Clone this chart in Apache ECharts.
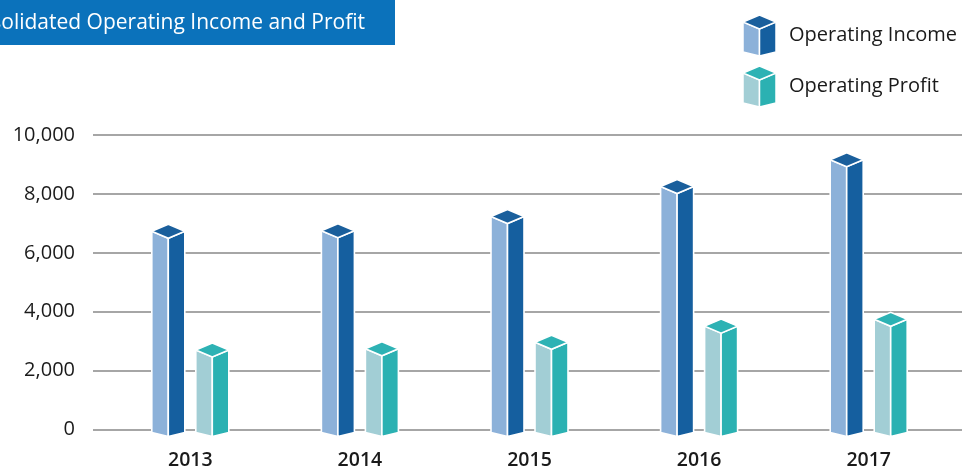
<!DOCTYPE html>
<html>
<head>
<meta charset="utf-8">
<title>Consolidated Operating Income and Profit</title>
<script src="https://cdn.jsdelivr.net/npm/echarts@6/dist/echarts.min.js"></script>
<style>
  html, body { margin: 0; padding: 0; background: #fff; }
  #main { width: 962px; height: 472px; }
</style>
</head>
<body>
<div id="main"></div>
<script>
  // 数据
  const years = ['2013', '2014', '2015', '2016', '2017']
  const incomeValues = [6730, 6750, 7230, 8250, 9160]
  const profitValues = [2700, 2740, 2960, 3510, 3740]
  const yTicks = [0, 2000, 4000, 6000, 8000, 10000]

  const incomeColors = { top: '#1a5f9c', left: '#8cb1d9', right: '#155f9f' }
  const profitColors = { top: '#2db2b4', left: '#a2ced5', right: '#2bb1b2' }

  const chartDom = document.getElementById('main')
  const chartInstance = echarts.init(chartDom, null, { renderer: 'canvas' })

  // 图例用的小立方体图标
  function cubeIcon(c) {
    const svg = '<svg xmlns="http://www.w3.org/2000/svg" width="33" height="42" viewBox="0 0 33 42">' +
      '<polygon points="0,8 16.5,15 16.5,42 0,38" fill="' + c.left + '" stroke="#fff" stroke-width="1.5"/>' +
      '<polygon points="33,8 16.5,15 16.5,42 33,38" fill="' + c.right + '" stroke="#fff" stroke-width="1.5"/>' +
      '<polygon points="0,8 16.5,1 33,8 16.5,15" fill="' + c.top + '" stroke="#fff" stroke-width="1.5"/>' +
      '</svg>'
    return 'image://data:image/svg+xml;charset=utf-8,' + encodeURIComponent(svg)
  }

  // 画一个立方体柱子
  function makeCube(offset, colors) {
    return function (params, api) {
      const idx = api.value(0)
      const topPt = api.coord([idx, api.value(1)])
      const basePt = api.coord([idx, 0])
      const cx = topPt[0] + offset
      const t = topPt[1]
      const b = basePt[1]
      const hw = 16.5
      const d = 7
      const style = { stroke: '#fff', lineWidth: 1.6 }
      return {
        type: 'group',
        children: [
          {
            type: 'polygon',
            shape: { points: [[cx - hw, t], [cx, t + d], [cx, b + 7], [cx - hw, b + 3]] },
            style: Object.assign({ fill: colors.left }, style)
          },
          {
            type: 'polygon',
            shape: { points: [[cx + hw, t], [cx, t + d], [cx, b + 7], [cx + hw, b + 3]] },
            style: Object.assign({ fill: colors.right }, style)
          },
          {
            type: 'polygon',
            shape: { points: [[cx - hw, t], [cx, t - d], [cx + hw, t], [cx, t + d]] },
            style: Object.assign({ fill: colors.top }, style)
          }
        ]
      }
    }
  }

  const fontFamily = '"Open Sans", "Noto Sans", sans-serif'

  const option = {
    animation: false,
    textStyle: { fontFamily: fontFamily },
    graphic: [
      {
        type: 'rect',
        left: 0,
        top: 0,
        shape: { width: 395, height: 45 },
        style: { fill: '#0b72bb' },
        z: 10
      },
      {
        type: 'text',
        x: 365,
        y: 23,
        style: {
          text: 'Consolidated Operating Income and Profit',
          fill: '#fff',
          font: '21px ' + fontFamily,
          textAlign: 'right',
          textVerticalAlign: 'middle'
        },
        z: 11
      }
    ],
    legend: {
      orient: 'vertical',
      left: 743,
      top: 14,
      padding: 0,
      itemWidth: 33,
      itemHeight: 42,
      itemGap: 9,
      selectedMode: false,
      textStyle: { fontSize: 20, color: '#1a1a1a', padding: [6, 0, 0, 8] },
      data: [
        { name: 'Operating Income', icon: cubeIcon(incomeColors) },
        { name: 'Operating Profit', icon: cubeIcon(profitColors) }
      ]
    },
    grid: [
      { left: 93, right: 0, top: 135, bottom: 42.5 },
      { left: 105.5, right: 8.5, top: 135, bottom: 42.5 }
    ],
    xAxis: [
      {
        gridIndex: 0,
        type: 'category',
        data: years,
        show: false
      },
      {
        gridIndex: 1,
        type: 'category',
        data: years,
        axisLine: { show: false },
        axisTick: { show: false },
        axisLabel: {
          margin: 21,
          fontSize: 19.5,
          fontWeight: 600,
          color: '#1a1a1a'
        }
      }
    ],
    yAxis: [
      {
        gridIndex: 0,
        type: 'value',
        min: yTicks[0],
        max: yTicks[yTicks.length - 1],
        interval: yTicks[1] - yTicks[0],
        axisLine: { show: false },
        axisTick: { show: false },
        axisLabel: {
          margin: 18,
          fontSize: 20,
          color: '#1a1a1a',
          formatter: function (v) { return v.toLocaleString('en-US') }
        },
        splitLine: { lineStyle: { color: '#a6a6a6', width: 2 } }
      },
      {
        gridIndex: 1,
        type: 'value',
        min: yTicks[0],
        max: yTicks[yTicks.length - 1],
        interval: yTicks[1] - yTicks[0],
        show: false,
        splitLine: { show: false }
      }
    ],
    series: [
      {
        name: 'Operating Income',
        type: 'custom',
        xAxisIndex: 1,
        yAxisIndex: 1,
        itemStyle: { color: incomeColors.right },
        renderItem: makeCube(-22, incomeColors),
        encode: { x: 0, y: 1 },
        data: incomeValues.map((v, i) => [i, v]),
        z: 5
      },
      {
        name: 'Operating Profit',
        type: 'custom',
        xAxisIndex: 1,
        yAxisIndex: 1,
        itemStyle: { color: profitColors.right },
        renderItem: makeCube(22, profitColors),
        encode: { x: 0, y: 1 },
        data: profitValues.map((v, i) => [i, v]),
        z: 5
      }
    ]
  }

  chartInstance.setOption(option)
</script>
</body>
</html>
